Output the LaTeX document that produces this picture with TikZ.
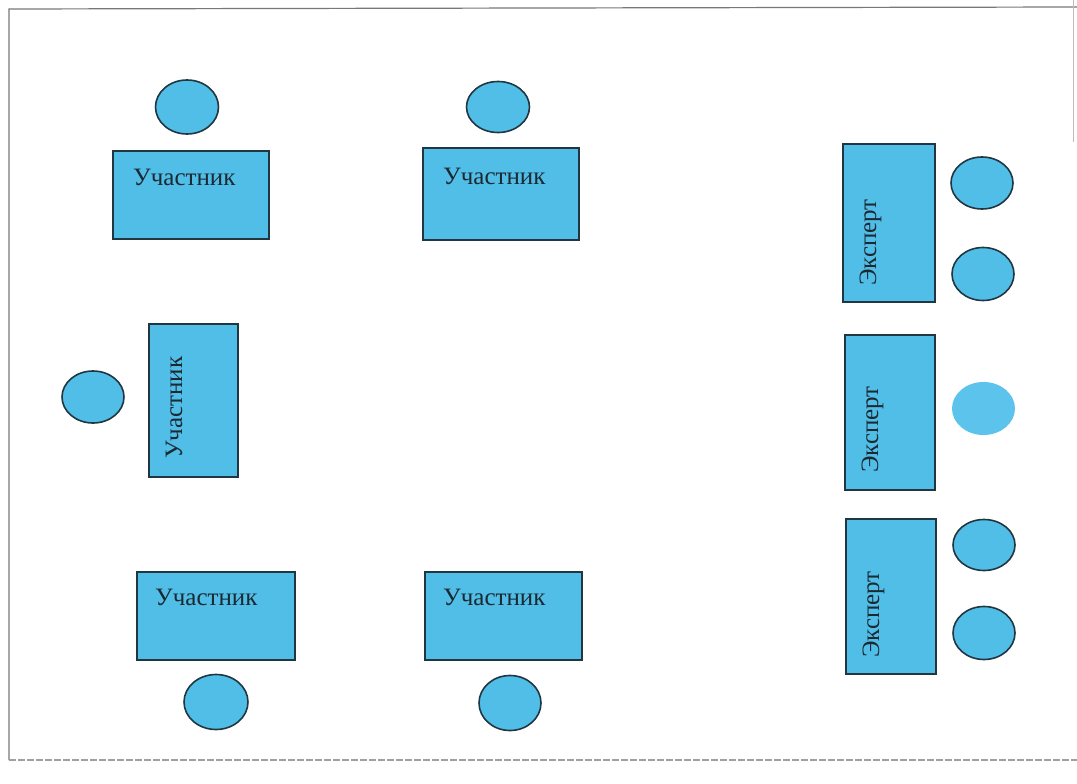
\documentclass[tikz,border=0pt]{standalone}
\usepackage{fontspec}
\setmainfont{Liberation Serif}
\usetikzlibrary{shapes.geometric}
\definecolor{tbl}{RGB}{80,190,230}
\definecolor{seatlight}{RGB}{92,196,236}
\definecolor{edge}{RGB}{32,55,66}
\definecolor{txt}{RGB}{28,40,50}
\definecolor{framec}{RGB}{120,120,120}
\tikzset{
  desk/.style={rectangle, draw=edge, fill=tbl, line width=1.6pt, inner sep=0pt},
  seat/.style={ellipse, draw=edge, fill=tbl, line width=1.6pt, inner sep=0pt},
  softseat/.style={ellipse, fill=seatlight, inner sep=0pt},
  lbl/.style={font=\fontsize{25}{30}\selectfont, text=txt, inner sep=0pt},
  framel/.style={draw=framec, line width=1.2pt}
}
\begin{document}
\begin{tikzpicture}[x=1pt,y=-1pt]
\useasboundingbox[fill=white] (0,0) rectangle (1077,784);
% frame
\coordinate (ftl) at (9,9);
\coordinate (ftr) at (1077,7);
\coordinate (fbl) at (9,760);
\coordinate (fbr) at (1077,760);
\coordinate (rt) at (1073,0);
\coordinate (rb) at (1073,142);
\draw[framel] (ftr) -- (ftl) -- (fbl);
\draw[framel, draw=framec!70, dash pattern=on 7pt off 2pt] (fbl) -- (fbr);
\draw[framel, draw=framec!50, line width=0.8pt] (rt) -- (rb);
% participants
\node[desk, minimum width=156, minimum height=88] (p1) at (191,195) {};
\node[seat, minimum width=63, minimum height=54] (s1) at (187,107) {};
\node[lbl, anchor=base west] (t1) at (133,185) {Участник};

\node[desk, minimum width=156, minimum height=92] (p2) at (501,194) {};
\node[seat, minimum width=63, minimum height=51] (s2) at (498,107) {};
\node[lbl, anchor=base west] (t2) at (443,184) {Участник};

\node[desk, minimum width=89, minimum height=153] (p3) at (193.5,400.5) {};
\node[seat, minimum width=62, minimum height=52] (s3) at (93,397) {};
\node[lbl, anchor=base west, rotate=90] (t3) at (182,459) {Участник};

\node[desk, minimum width=158, minimum height=88] (p4) at (216,616) {};
\node[seat, minimum width=64, minimum height=55] (s4) at (216,702) {};
\node[lbl, anchor=base west] (t4) at (155,605) {Участник};

\node[desk, minimum width=157, minimum height=88] (p5) at (503.5,616) {};
\node[seat, minimum width=62, minimum height=55] (s5) at (510,703) {};
\node[lbl, anchor=base west] (t5) at (443,605) {Участник};

% experts
\node[desk, minimum width=92, minimum height=158] (e1) at (889,223) {};
\node[seat, minimum width=62, minimum height=52] (x1) at (982,183) {};
\node[seat, minimum width=62, minimum height=53] (x2) at (983,274) {};
\node[lbl, anchor=base west, rotate=90] (u1) at (876,286) {Эксперт};

\node[desk, minimum width=90, minimum height=155] (e2) at (890,412.5) {};
\node[softseat, minimum width=63, minimum height=53] (x3) at (983.5,408.5) {};
\node[lbl, anchor=base west, rotate=90] (u2) at (878,473) {Эксперт};

\node[desk, minimum width=90, minimum height=155] (e3) at (891,596.5) {};
\node[seat, minimum width=62, minimum height=51] (x4) at (984,545) {};
\node[seat, minimum width=62, minimum height=53] (x5) at (984,633) {};
\node[lbl, anchor=base west, rotate=90] (u3) at (879,658) {Эксперт};
\end{tikzpicture}
\end{document}
